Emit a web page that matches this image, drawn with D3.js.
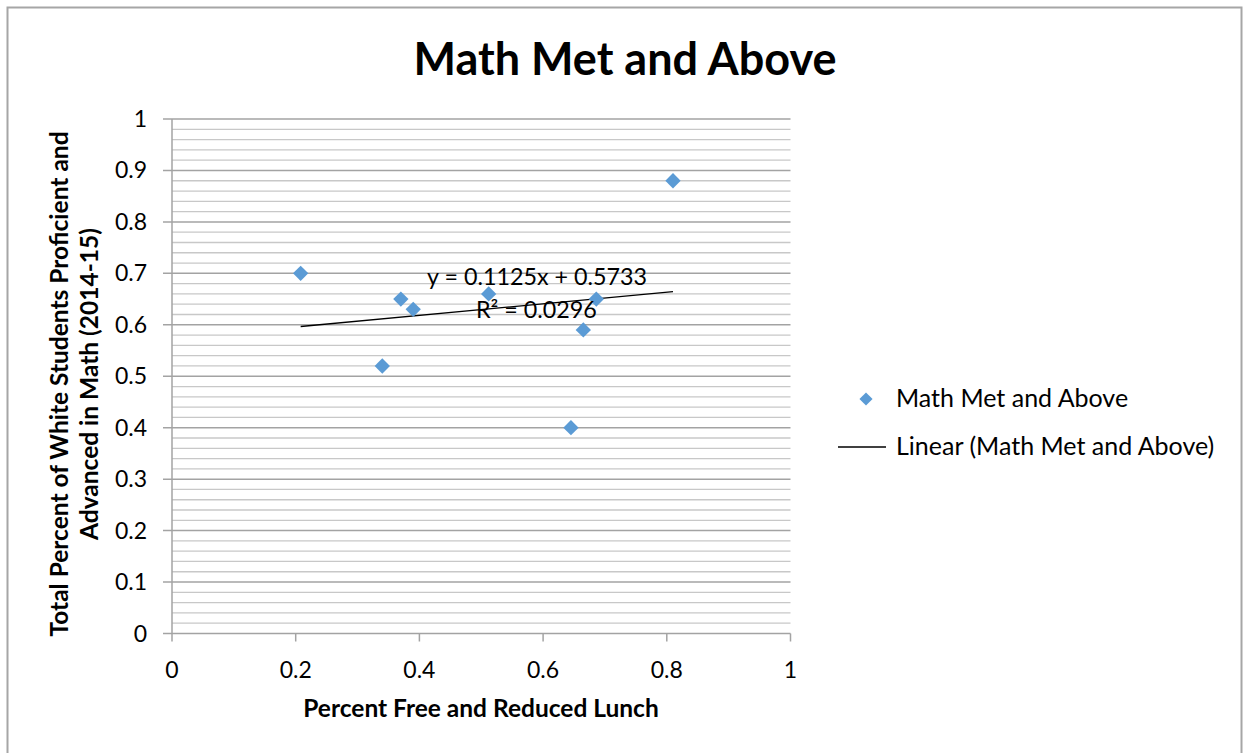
<!DOCTYPE html>
<html>
<head>
<meta charset="utf-8">
<script src="https://cdn.jsdelivr.net/npm/d3@7"></script>
<style>
  body { margin: 0; background: #fff; }
  text { font-family: Lato, "Open Sans", sans-serif; fill: #000; }
</style>
</head>
<body>
<svg id="chart" width="1244" height="753"></svg>
<script>
// data
const seriesName = "Math Met and Above"
const freeLunch = [0.208, 0.34, 0.37, 0.39, 0.512, 0.645, 0.665, 0.686, 0.81]
const mathMet = [0.70, 0.52, 0.65, 0.63, 0.66, 0.40, 0.59, 0.65, 0.88]
const xTicks = [0, 0.2, 0.4, 0.6, 0.8, 1]
const yTicks = [0, 0.1, 0.2, 0.3, 0.4, 0.5, 0.6, 0.7, 0.8, 0.9, 1]
const trendSlope = 0.1125
const trendIntercept = 0.5733
const trendR2 = 0.0296

const svg = d3.select("#chart")
const W = 1244, H = 753
const plot = { left: 172, right: 790.5, top: 119, bottom: 633.5 }

svg.append("rect")
    .attr("x", 7.5).attr("y", 7.5)
    .attr("width", W - 10).attr("height", H + 10)
    .attr("fill", "#fff").attr("stroke", "#a6a6a6").attr("stroke-width", 2)

const x = d3.scaleLinear().domain([0, 1]).range([plot.left, plot.right])
const y = d3.scaleLinear().domain([0, 1]).range([plot.bottom, plot.top])

// minor gridlines every 0.02
const minor = d3.range(0, 51).map(i => i / 50)
svg.append("g").selectAll("line")
    .data(minor.filter((d, i) => i % 5 !== 0))
    .join("line")
    .attr("x1", plot.left).attr("x2", plot.right)
    .attr("y1", d => y(d)).attr("y2", d => y(d))
    .attr("stroke", "#c8c8c8").attr("stroke-width", 1.3)

// major gridlines
svg.append("g").selectAll("line")
    .data(yTicks)
    .join("line")
    .attr("x1", plot.left - 9).attr("x2", plot.right)
    .attr("y1", d => y(d)).attr("y2", d => y(d))
    .attr("stroke", "#a3a3a3").attr("stroke-width", 1.5)

// y axis line
svg.append("line")
    .attr("x1", plot.left).attr("x2", plot.left)
    .attr("y1", plot.top).attr("y2", plot.bottom + 8)
    .attr("stroke", "#a3a3a3").attr("stroke-width", 1.5)

// x ticks
svg.append("g").selectAll("line")
    .data(xTicks.slice(1))
    .join("line")
    .attr("x1", d => x(d)).attr("x2", d => x(d))
    .attr("y1", plot.bottom).attr("y2", plot.bottom + 8)
    .attr("stroke", "#a3a3a3").attr("stroke-width", 1.5)

// tick labels
svg.append("g").selectAll("text")
    .data(yTicks)
    .join("text")
    .attr("x", plot.left - 25).attr("y", d => y(d) + 8)
    .attr("text-anchor", "end")
    .attr("font-size", 23)
    .text(d => d3.format("")(d))

svg.append("g").selectAll("text")
    .data(xTicks)
    .join("text")
    .attr("x", d => x(d)).attr("y", plot.bottom + 44)
    .attr("text-anchor", "middle")
    .attr("font-size", 23)
    .text(d => d3.format("")(d))

// trendline over the data range
const xr = d3.extent(freeLunch)
svg.append("line")
    .attr("x1", x(xr[0])).attr("y1", y(trendSlope * xr[0] + trendIntercept))
    .attr("x2", x(xr[1])).attr("y2", y(trendSlope * xr[1] + trendIntercept))
    .attr("stroke", "#000").attr("stroke-width", 1.3)

// points
const diamond = d3.symbol().type(d3.symbolDiamond2).size(150)
svg.append("g").selectAll("path")
    .data(freeLunch.map((d, i) => [d, mathMet[i]]))
    .join("path")
    .attr("d", diamond)
    .attr("transform", d => `translate(${x(d[0])},${y(d[1])})`)
    .attr("fill", "#5b9bd5")

// equation label
svg.append("text")
    .attr("x", 427).attr("y", 285)
    .attr("font-size", 23.3)
    .text(`y = ${trendSlope}x + ${trendIntercept}`)
svg.append("text")
    .attr("x", 476).attr("y", 318)
    .attr("font-size", 23.3)
    .text(`R² = ${trendR2}`)

// title
svg.append("text")
    .attr("x", 625).attr("y", 75)
    .attr("text-anchor", "middle")
    .attr("font-size", 45).attr("font-weight", "bold")
    .text(seriesName)

// axis titles
svg.append("text")
    .attr("x", 481).attr("y", 717)
    .attr("text-anchor", "middle")
    .attr("font-size", 24.5).attr("font-weight", "bold")
    .text("Percent Free and Reduced Lunch")

const yt = svg.append("text")
    .attr("transform", "translate(68,384) rotate(-90)")
    .attr("text-anchor", "middle")
    .attr("font-size", 24.5).attr("font-weight", "bold")
yt.append("tspan").attr("x", 0).attr("dy", 0).text("Total Percent of White Students Proficient and")
yt.append("tspan").attr("x", 0).attr("dy", 30).text("Advanced in Math (2014-15)")

// legend
const lg = svg.append("g")
lg.append("path")
    .attr("d", d3.symbol().type(d3.symbolDiamond2).size(110))
    .attr("transform", "translate(866,399)")
    .attr("fill", "#5b9bd5")
lg.append("text").attr("x", 896).attr("y", 407).attr("font-size", 25).text(seriesName)
lg.append("line")
    .attr("x1", 838).attr("x2", 886).attr("y1", 447).attr("y2", 447)
    .attr("stroke", "#000").attr("stroke-width", 1.3)
lg.append("text").attr("x", 896).attr("y", 455).attr("font-size", 25).text(`Linear (${seriesName})`)
</script>
</body>
</html>
